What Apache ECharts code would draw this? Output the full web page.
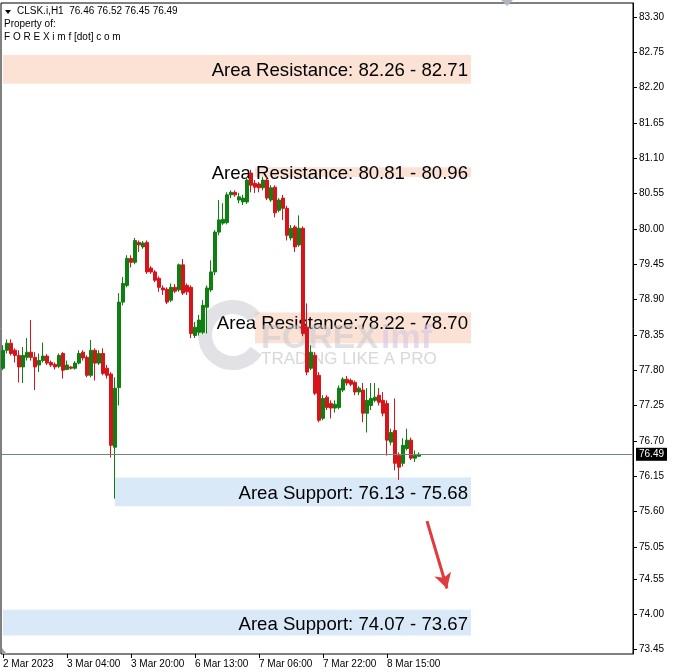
<!DOCTYPE html>
<html><head><meta charset="utf-8">
<script src="https://cdn.jsdelivr.net/npm/echarts@6/dist/echarts.min.js"></script>
<style>html,body{margin:0;padding:0;background:#fff}#c{width:674px;height:672px}</style>
</head><body><div id="c"></div>
<script>
// ---- data ----
const headerTitle = 'CLSK.i,H1  76.46 76.52 76.45 76.49';
const headerLine2 = 'Property of:';
const headerLine3 = 'F O R E X i m f [dot] c o m';

const xTickLabels = ['2 Mar 2023','3 Mar 04:00','3 Mar 20:00','6 Mar 13:00','7 Mar 06:00','7 Mar 22:00','8 Mar 15:00'];
const barsPerXTick = 16;
const totalSlots = 158;

const yTickLabels = [83.30,82.75,82.20,81.65,81.10,80.55,80.00,79.45,78.90,78.35,77.80,77.25,76.70,76.15,75.60,75.05,74.55,74.00,73.45];

const opens = [77.83,78.11,78.22,78.11,78.03,77.85,78.00,78.08,78.00,77.88,77.95,78.02,77.92,77.89,77.86,78.06,77.81,77.85,77.83,77.91,
78.08,78.00,77.72,78.11,77.91,78.06,77.83,77.74,76.60,77.53,78.86,79.12,79.54,79.48,79.79,79.72,79.79,79.39,79.33,79.23,
79.08,79.06,78.89,79.09,79.05,79.44,79.12,79.09,78.34,78.39,78.39,78.78,79.05,79.33,79.95,80.09,80.10,80.53,80.57,80.45,
80.42,80.42,80.87,80.71,80.70,80.64,80.76,80.45,80.65,80.29,80.48,80.32,79.86,80.03,79.75,80.01,78.47,77.83,78.03,77.72,
77.05,77.38,77.28,77.21,77.22,77.49,77.66,77.64,77.61,77.46,77.49,77.13,77.25,77.33,77.41,77.33,77.28,76.68,76.86,76.47,
76.35,76.58,76.71,76.43,76.46];
const closes = [78.11,78.22,78.06,78.03,77.85,78.03,78.08,78.00,77.85,77.95,78.02,77.91,77.88,77.85,78.03,77.80,77.88,77.83,77.91,78.06,
77.99,77.72,78.11,77.91,78.06,77.75,77.72,76.63,77.52,78.86,79.15,79.54,79.48,79.82,79.75,79.78,79.33,79.33,79.20,79.09,
79.05,78.86,79.09,79.03,79.44,79.00,79.02,78.37,78.47,78.58,78.81,79.08,79.33,79.95,80.14,80.15,80.53,80.57,80.53,80.50,
80.48,80.76,80.68,80.65,80.64,80.76,80.48,80.64,80.25,80.45,80.32,79.90,80.01,79.72,80.01,78.37,77.77,78.08,77.44,77.02,
77.36,77.22,77.21,77.27,77.52,77.66,77.60,77.58,77.46,77.52,77.13,77.33,77.36,77.38,77.30,77.13,76.71,76.83,76.35,76.29,
76.63,76.71,76.43,76.47,76.49];
const lows = [77.80,78.06,78.03,77.92,77.61,77.60,77.95,77.95,77.49,77.77,77.92,77.88,77.85,77.81,77.83,77.67,77.80,77.81,77.81,77.89,
77.95,77.69,77.69,77.64,77.88,77.72,77.67,76.44,75.80,77.25,78.81,79.09,79.40,79.45,79.64,79.69,79.30,79.30,79.17,79.02,
78.97,78.83,78.86,79.00,79.02,78.97,78.97,78.30,78.30,78.34,78.36,78.37,79.02,79.28,79.90,80.06,80.07,80.48,80.50,80.40,
80.37,80.39,80.57,80.56,80.57,80.60,80.45,80.42,80.18,80.26,80.14,79.82,79.82,79.64,79.72,78.33,77.72,77.80,77.41,76.99,
77.02,77.18,77.05,77.14,77.19,77.46,77.56,77.55,77.41,77.41,76.99,76.83,77.18,77.30,77.25,77.08,76.47,76.63,76.24,76.09,
76.30,76.55,76.40,76.37,76.45];
const highs = [78.19,78.28,78.28,78.14,78.11,78.16,78.30,78.58,78.08,78.06,78.23,78.05,77.95,77.92,78.06,78.08,77.95,77.86,77.94,78.11,
78.11,78.03,78.27,78.14,78.11,78.14,77.88,77.77,77.69,79.00,79.25,79.59,79.59,79.86,79.82,79.81,79.82,79.42,79.36,79.26,
79.12,79.09,79.15,79.14,79.46,79.53,79.15,79.12,78.55,78.66,78.89,79.12,79.51,79.98,80.45,80.40,80.57,80.60,80.60,80.56,
80.53,80.79,80.92,80.76,80.73,80.81,80.82,80.68,80.68,80.48,80.53,80.36,80.06,80.06,80.21,80.04,78.84,78.19,78.08,77.77,
77.41,77.41,77.33,77.33,77.56,77.69,77.71,77.67,77.64,77.55,77.60,77.52,77.60,77.60,77.52,77.46,77.33,76.89,77.36,76.52,
76.74,76.89,76.75,76.55,76.52];

const lastPrice = 76.49;

const zoneLabels = ['Area Resistance: 82.26 - 82.71','Area Resistance: 80.81 - 80.96','Area Resistance:78.22 - 78.70','Area Support: 76.13 - 75.68','Area Support: 74.07 - 73.67'];
const zoneLow   = [82.26, 80.81, 78.22, 75.68, 73.67];
const zoneHigh  = [82.71, 80.96, 78.70, 76.13, 74.07];
const zoneKind  = ['res','res','res','sup','sup'];
const zoneStartBar = [0, 63, 63, 28, 0];
const zoneEndBar = 117;

const arrowStart = [106, 75.45];
const arrowEnd   = [111, 74.40];

// ---- chart ----
const RED = '#d7141a', GREEN = '#0f7f12';
const categories = Array.from({length: totalSlots}, (_, i) => String(i));
const candles = opens.map((o, i) => [o, closes[i], lows[i], highs[i]]);
const zoneColor = {res: '#fbe2d4', sup: '#d9e9f7'};
const labelNudge = [2, 2, -4, 2, 2];
const FONT = 'Liberation Sans';

const markAreaData = zoneLabels.map((t, i) => [
  {xAxis: String(zoneStartBar[i]), yAxis: zoneHigh[i], itemStyle: {color: zoneColor[zoneKind[i]]},
   label: {show: true, position: 'insideRight', formatter: t, color: '#000', fontSize: 18.6, fontFamily: FONT,
           distance: 3, offset: [0, labelNudge[i]]}},
  {xAxis: String(zoneEndBar), yAxis: zoneLow[i]}
]);

const chart = echarts.init(document.getElementById('c'), null, {renderer: 'canvas'});
chart.setOption({
  animation: false,
  backgroundColor: '#fff',
  grid: {left: 1, top: 3, width: 632, height: 651, show: true, borderColor: '#000', borderWidth: 1, backgroundColor: 'transparent'},
  xAxis: {
    type: 'category', data: categories, boundaryGap: true,
    axisLine: {show: false},
    axisTick: {show: true, alignWithLabel: true, length: 4, lineStyle: {color: '#000'},
      interval: (i) => i % barsPerXTick === 0 && i / barsPerXTick < xTickLabels.length},
    axisLabel: {
      interval: (i) => i % barsPerXTick === 0 && i / barsPerXTick < xTickLabels.length,
      formatter: (v) => xTickLabels[Math.round(Number(v) / barsPerXTick)] || '',
      align: 'left', margin: 5, color: '#000', fontSize: 10, fontFamily: FONT
    },
    splitLine: {show: false}
  },
  yAxis: {
    type: 'value', position: 'right', min: 73.38, max: 83.518, scale: true,
    axisLine: {show: true, lineStyle: {color: '#000'}},
    axisTick: {show: true, length: 4, lineStyle: {color: '#000'}, customValues: yTickLabels},
    axisLabel: {customValues: yTickLabels, formatter: (v) => Number(v).toFixed(2), color: '#000', fontSize: 10, fontFamily: FONT, margin: 6},
    splitLine: {show: false}
  },
  series: [{
    type: 'candlestick', data: candles, barWidth: 3,
    itemStyle: {color: GREEN, color0: RED, borderColor: GREEN, borderColor0: RED, borderWidth: 1},
    z: 3,
    markArea: {silent: true, z: 1, data: markAreaData},
    markLine: {
      silent: true, symbol: 'none', animation: false,
      data: [
        {yAxis: lastPrice, lineStyle: {color: '#72877c', width: 1, type: 'solid'},
         label: {show: true, position: 'end', formatter: lastPrice.toFixed(2), backgroundColor: '#000', color: '#fff',
                 padding: [2, 3, 1, 3], fontSize: 10, fontFamily: FONT, distance: 3}}
      ]
    }
  }, {
    type: 'line', data: [], silent: true,
    markLine: {
      silent: true, animation: false, symbol: ['none', 'arrow'], symbolSize: [13, 15],
      lineStyle: {color: '#e0393e', width: 3, type: 'solid'}, label: {show: false},
      data: [[{coord: [String(arrowStart[0]), arrowStart[1]]}, {coord: [String(arrowEnd[0]), arrowEnd[1]]}]]
    }
  }],
  graphic: [
    {type: 'polygon', shape: {points: [[5, 10], [11, 10], [8, 14]]}, style: {fill: '#000'}},
    {type: 'text', left: 17, top: 6, style: {text: headerTitle, font: '10px ' + FONT, fill: '#000'}},
    {type: 'text', left: 4, top: 19, style: {text: headerLine2, font: '10px ' + FONT, fill: '#000'}},
    {type: 'text', left: 4, top: 32, style: {text: headerLine3, font: '10px ' + FONT, fill: '#000'}},
    {type: 'polygon', shape: {points: [[501, 0], [513, 0], [507, 6]]}, style: {fill: '#b0b6c0'}},
    {type: 'polygon', shape: {points: [[2, 648], [2, 654], [7, 654]]}, style: {fill: '#a0a0a0'}},
    // watermark
    {type: 'group', left: 198, top: 300, silent: true, z: 2, children: [
      {type: 'arc', z: 2, shape: {cx: 32, cy: 38, r: 28, startAngle: 0.6, endAngle: 5.6}, style: {stroke: '#cfcfd6', lineWidth: 14, fill: null, opacity: 0.6}},
      {type: 'text', z: 2, x: 60, y: 25, style: {text: 'FOREX', font: 'bold 34px "Liberation Sans"', fill: '#c8c8d0', opacity: 0.55}},
      {type: 'text', z: 2, x: 180, y: 25, style: {text: 'imf', font: 'bold 34px "Liberation Sans"', fill: '#d6c8e6', opacity: 0.65}},
      {type: 'text', z: 2, x: 60, y: 54, style: {text: 'TRADING LIKE A PRO', font: '17px "Liberation Sans"', fill: '#d4d4d4', opacity: 0.9}}
    ]}
  ]
});
</script></body></html>
